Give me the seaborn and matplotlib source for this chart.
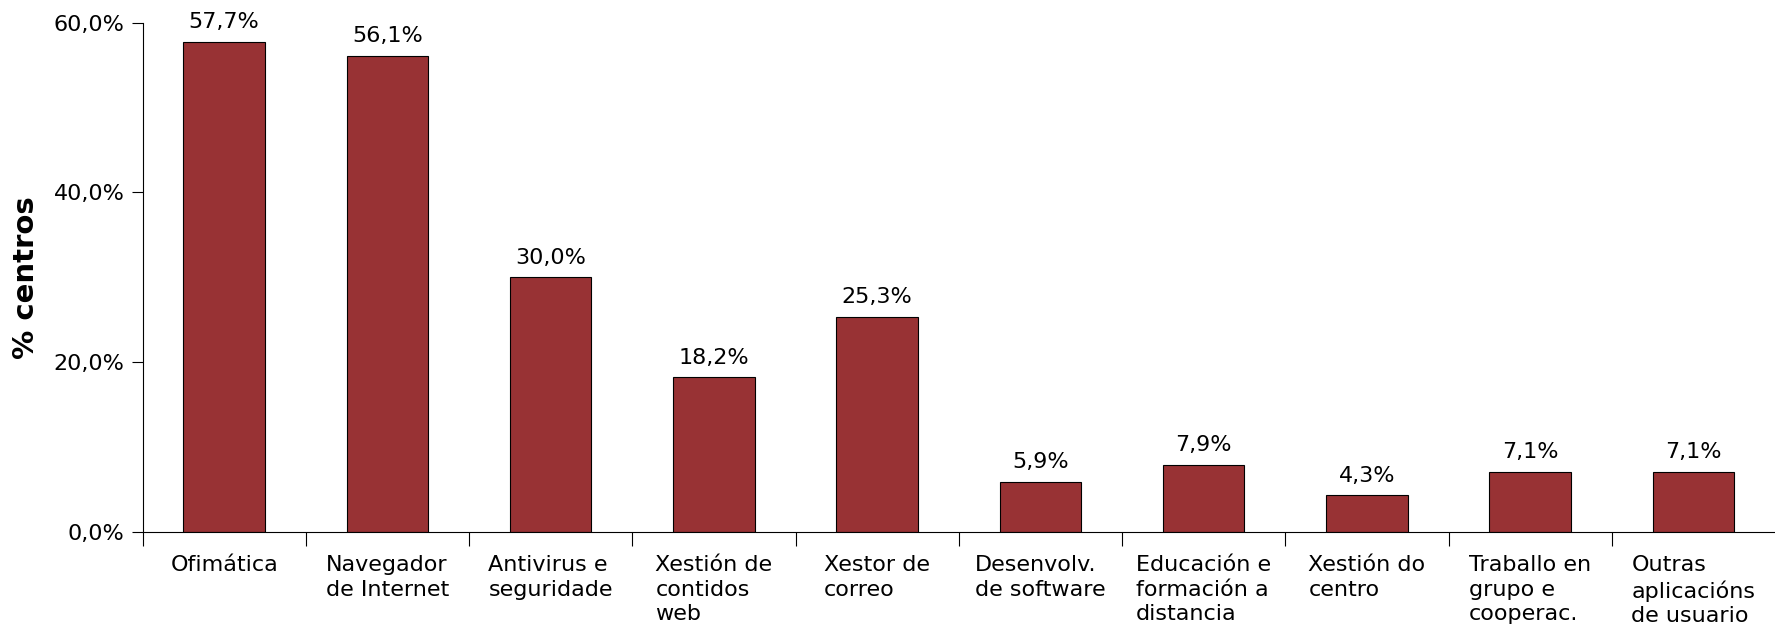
import numpy as np
import pandas as pd
import matplotlib
matplotlib.use('Agg')
import matplotlib.pyplot as plt
import seaborn as sns

# datos
categorias = ['Ofimática', 'Navegador\nde Internet', 'Antivirus e\nseguridade',
              'Xestión de\ncontidos\nweb', 'Xestor de\ncorreo', 'Desenvolv.\nde software',
              'Educación e\nformación a\ndistancia', 'Xestión do\ncentro',
              'Traballo en\ngrupo e\ncooperac.', 'Outras\naplicacións\nde usuario']
valores = [57.7, 56.1, 30.0, 18.2, 25.3, 5.9, 7.9, 4.3, 7.1, 7.1]
yticks = [0, 20, 40, 60]

df = pd.DataFrame({'cat': categorias, 'val': valores})

sns.set_style('white')
plt.rcParams['font.family'] = ['DejaVu Sans']
plt.rcParams['text.color'] = 'black'
plt.rcParams['xtick.color'] = 'black'
plt.rcParams['ytick.color'] = 'black'
plt.rcParams['axes.labelcolor'] = 'black'

fig = plt.figure(figsize=(17.75, 6.25), dpi=100)
ax = fig.add_axes([0.0803, 0.149, 1.0 - 0.0803, 0.9637 - 0.149])

sns.barplot(data=df, x='cat', y='val', color='#983234', saturation=1,
            width=0.5, edgecolor='black', linewidth=0.8, ax=ax)

for i, v in enumerate(valores):
    ax.annotate(f'{v:.1f}%'.replace('.', ','), (i, v), xytext=(0, 7),
                textcoords='offset points', ha='center', va='bottom', fontsize=16)

ax.set_xlim(-0.5, 9.5)
ax.set_ylim(0, 60)
ax.set_yticks(yticks)
ax.set_yticklabels([f'{t:.1f}%'.replace('.', ',') for t in yticks], fontsize=16)
ax.tick_params(axis='y', left=True, length=8, width=0.8, pad=5)

ax.set_xticks(range(len(categorias)))
ax.set_xticklabels(categorias, fontsize=16, multialignment='left', linespacing=1.3)
ax.tick_params(axis='x', which='major', length=0, pad=16.5)
ax.set_xticks(np.arange(-0.5, 9.5, 1.0), minor=True)
ax.tick_params(axis='x', which='minor', bottom=True, length=10, width=0.8, direction='out')

ax.set_xlabel('')
ax.set_ylabel('% centros', fontsize=21, fontweight='bold', labelpad=10)

for s in ['top', 'right']:
    ax.spines[s].set_visible(False)
for s in ['left', 'bottom']:
    ax.spines[s].set_color('black')
    ax.spines[s].set_linewidth(0.8)

fig.savefig('out.png', dpi=100)
